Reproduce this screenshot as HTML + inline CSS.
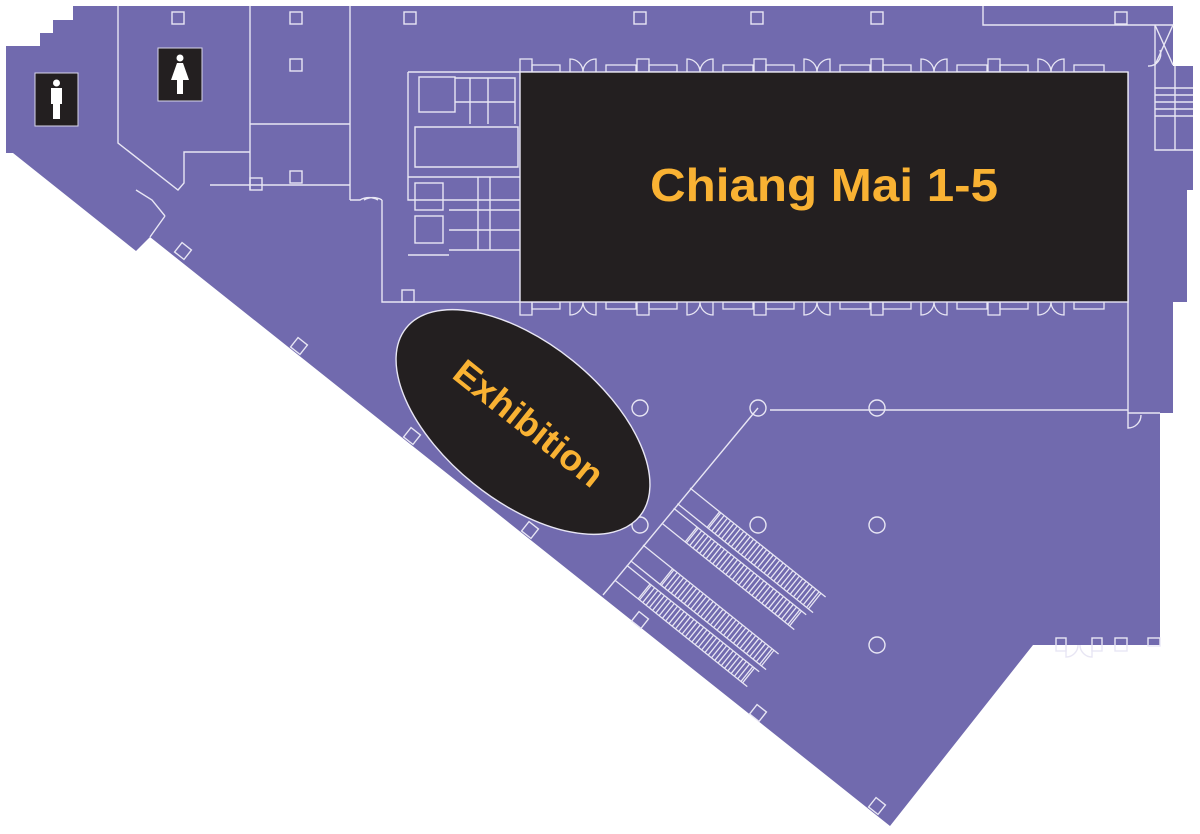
<!DOCTYPE html>
<html><head><meta charset="utf-8"><style>
html,body{margin:0;padding:0;background:#fff;}
svg{display:block;}
</style></head><body>
<svg width="1200" height="834" viewBox="0 0 1200 834" xmlns="http://www.w3.org/2000/svg">
<defs>
<g id="bayTop" fill="none" stroke="#e8e6f4" stroke-width="1.3">
  <rect x="0" y="-13" width="12" height="13"/>
  <rect x="12" y="-7" width="28" height="7"/>
  <path d="M50 0 V-13 A13 13 0 0 1 63 0 M76 0 V-13 A13 13 0 0 0 63 0"/>
  <rect x="86" y="-7" width="30" height="7"/>
</g>
<g id="escPair" fill="none" stroke="#e8e6f4" stroke-width="1.3">
  <path d="M0 0 H174 M0 20 H174 M0 26 H170 M0 45 H170"/>
  <path d="M38 0 L38 20 M30 26 L30 45"/>
  <path stroke-dasharray="1.3 2.9" stroke-width="19" d="M39 10 H168 M31 35.5 H164"/>
  <path d="M168 0 V20 M164 26 V45"/>
</g>
</defs>
<polygon fill="#716aae" points="6,46 40,46 40,33 53,33 53,20 73,20 73,6 1173,6 1173,66 1193,66 1193,190 1187,190 1187,302 1173,302 1173,413 1160,413 1160,645 1033,645 890,826 150,237 136,251 13,153 6,153"/>
<g fill="none" stroke="#e8e6f4" stroke-width="1.4">
  <path d="M118 6 V143 L178 190 L184 183 V152 H250"/>
  <path d="M250 6 V190 M250 124 H350 M350 6 V200 M210 185 H350"/>
  <path d="M136 190 L152 200 L165 216 M165 216 L150 237"/>
  <path d="M408 72 V200 H520 M382 200 V302 H520"/>
  <path d="M408 72 H520 M415 127 H518 V167 H415 Z M408 177 H520"/>
  <rect x="419" y="77" width="36" height="35"/>
  <path d="M455 78 H515 V124 M470 78 V124 M488 78 V124 M455 102 H515"/>
  <rect x="415" y="183" width="28" height="27"/>
  <rect x="415" y="216" width="28" height="27"/>
  <path d="M449 210 H520 M449 230 H520 M449 250 H520 M478 177 V250 M490 177 V250"/>
  <path d="M408 255 H449"/>
  <path d="M983 6 V25 H1173 M1155 25 V150 H1193 M1155 88 H1193 M1155 95 H1193 M1155 102 H1193 M1155 109 H1193 M1155 116 H1193 M1175 66 V150"/>
  <path d="M1155 25 L1173 65 M1173 25 L1155 65"/>
  <path d="M1128 72 V413 M770 410 H1128 M1128 413 H1160"/>
  <path d="M758 408 L603 595"/>
  <path d="M350 200 H360 A18 18 0 0 1 378 200 M382 200 A18 18 0 0 0 364 200"/>
  <rect x="172" y="12" width="12" height="12"/><rect x="290" y="12" width="12" height="12"/><rect x="404" y="12" width="12" height="12"/>
  <rect x="634" y="12" width="12" height="12"/><rect x="751" y="12" width="12" height="12"/><rect x="871" y="12" width="12" height="12"/>
  <rect x="1115" y="12" width="12" height="12"/>
  <rect x="290" y="59" width="12" height="12"/><rect x="290" y="171" width="12" height="12"/><rect x="402" y="290" width="12" height="12"/>
  <rect x="250" y="178" width="12" height="12"/>
  <g transform="translate(183,251) rotate(38.5)"><rect x="-6" y="-6" width="12" height="12"/></g>
  <g transform="translate(299,346) rotate(38.5)"><rect x="-6" y="-6" width="12" height="12"/></g>
  <g transform="translate(412,436) rotate(38.5)"><rect x="-6" y="-6" width="12" height="12"/></g>
  <g transform="translate(530,530) rotate(38.5)"><rect x="-6" y="-6" width="12" height="12"/></g>
  <g transform="translate(640,620) rotate(38.5)"><rect x="-6" y="-6" width="12" height="12"/></g>
  <g transform="translate(758,713) rotate(38.5)"><rect x="-6" y="-6" width="12" height="12"/></g>
  <g transform="translate(877,806) rotate(38.5)"><rect x="-6" y="-6" width="12" height="12"/></g>
  <circle cx="640" cy="408" r="8"/><circle cx="758" cy="408" r="8"/><circle cx="877" cy="408" r="8"/>
  <circle cx="640" cy="525" r="8"/><circle cx="758" cy="525" r="8"/><circle cx="877" cy="525" r="8"/>
  <circle cx="877" cy="645" r="8"/>
  <rect x="1056" y="638" width="10" height="13"/><rect x="1092" y="638" width="10" height="13"/><rect x="1115" y="638" width="12" height="13"/><rect x="1148" y="638" width="12" height="8"/>
  <path d="M1066 645 V657 A12 12 0 0 0 1078 645 M1092 645 V657 A12 12 0 0 1 1080 645"/>
  <path d="M1128 413 V428 A13 13 0 0 0 1141 415"/>
  <path d="M1160 50 A12 12 0 0 1 1148 66"/>
</g>
<g>
  <use href="#bayTop" transform="translate(520,72)"/>
  <use href="#bayTop" transform="translate(637,72)"/>
  <use href="#bayTop" transform="translate(754,72)"/>
  <use href="#bayTop" transform="translate(871,72)"/>
  <use href="#bayTop" transform="translate(988,72)"/>
  <use href="#bayTop" transform="translate(520,302) scale(1,-1)"/>
  <use href="#bayTop" transform="translate(637,302) scale(1,-1)"/>
  <use href="#bayTop" transform="translate(754,302) scale(1,-1)"/>
  <use href="#bayTop" transform="translate(871,302) scale(1,-1)"/>
  <use href="#bayTop" transform="translate(988,302) scale(1,-1)"/>
</g>
<use href="#escPair" transform="translate(690,488) rotate(38.8)"/>
<use href="#escPair" transform="translate(643,545) rotate(38.8)"/>
<rect x="35" y="73" width="43" height="53" fill="#231f20" stroke="#d8d6ea" stroke-width="1"/>
<circle cx="56.5" cy="83" r="3.5" fill="#fff"/>
<path d="M51 88 H62 V104 H60 V119 H53 V104 H51 Z" fill="#fff"/>
<rect x="158" y="48" width="44" height="53" fill="#231f20" stroke="#d8d6ea" stroke-width="1"/>
<circle cx="180" cy="58" r="3.5" fill="#fff"/>
<path d="M177 63 H183 L189 80 H183 V94 H177 V80 H171 Z" fill="#fff"/>
<rect x="520" y="72" width="608" height="230" fill="#231f20" stroke="#e8e6f4" stroke-width="1.4"/>
<text x="824" y="201" text-anchor="middle" font-family="Liberation Sans, sans-serif" font-weight="bold" font-size="46" fill="#f9b233" textLength="348" lengthAdjust="spacingAndGlyphs">Chiang Mai 1-5</text>
<ellipse cx="523" cy="422" rx="150" ry="79" transform="rotate(38.8 523 422)" fill="#231f20" stroke="#e8e6f4" stroke-width="1.4"/>
<text x="0" y="0" transform="translate(521,433) rotate(38.5)" text-anchor="middle" font-family="Liberation Sans, sans-serif" font-weight="bold" font-size="36" fill="#f9b233" textLength="180" lengthAdjust="spacingAndGlyphs">Exhibition</text>
</svg>
</body></html>
